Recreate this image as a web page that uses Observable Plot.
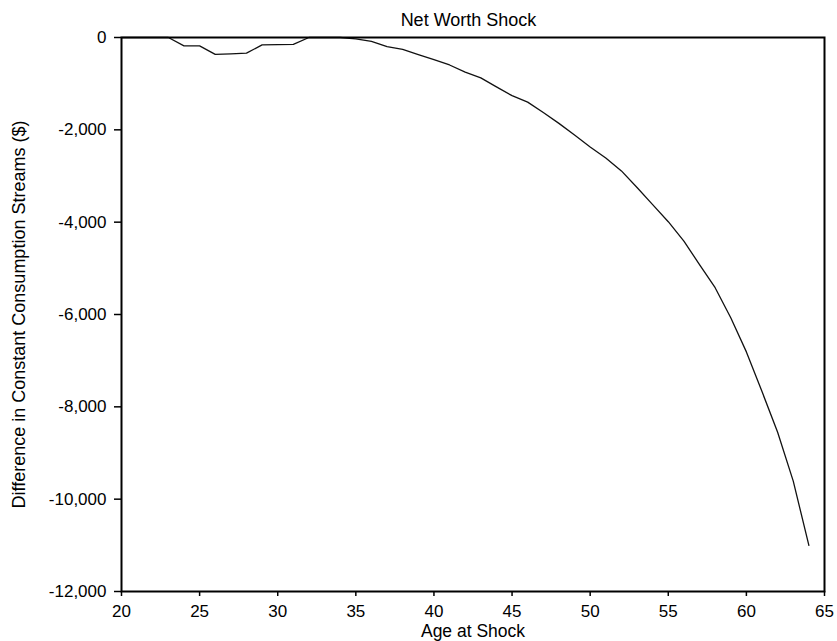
<!DOCTYPE html>
<html>
<head>
<meta charset="utf-8">
<script src="https://cdn.jsdelivr.net/npm/d3@7"></script>
<script src="https://cdn.jsdelivr.net/npm/@observablehq/plot@0.6"></script>
<style>
  html, body { margin: 0; padding: 0; background: #fff; }
  #title { width: 837px; box-sizing: border-box; padding-left: 113px; padding-right: 13px; padding-top: 10px;
    text-align: center; font: 18px "Liberation Sans", Arial, sans-serif; height: 30px; line-height: 20px; color: #000; }
</style>
</head>
<body>
<div id="title"></div>
<div id="chart"></div>
<script>
const titleText = "Net Worth Shock";
const xLabel = "Age at Shock";
const yLabel = "Difference in Constant Consumption Streams ($)";
const ages = [20,21,22,23,24,25,26,27,28,29,30,31,32,33,34,35,36,37,38,39,40,41,42,43,44,45,46,47,48,49,50,51,52,53,54,55,56,57,58,59,60,61,62,63,64];
const diffs = [0,0,0,0,-180,-180,-365,-355,-340,-160,-155,-150,0,0,0,-30,-85,-200,-255,-370,-480,-595,-750,-875,-1070,-1260,-1400,-1625,-1860,-2110,-2370,-2610,-2890,-3250,-3620,-3990,-4410,-4920,-5420,-6070,-6810,-7670,-8550,-9610,-11000];
const xTicks = [20,25,30,35,40,45,50,55,60,65];
const yTicks = [0,-2000,-4000,-6000,-8000,-10000,-12000];

document.getElementById("title").textContent = titleText;
const data = ages.map((a, i) => ({age: a, diff: diffs[i]}));
const fmt = d => (d < 0 ? "-" : "") + d3.format(",")(Math.abs(d));

const chart = Plot.plot({
  width: 837,
  height: 611,
  marginLeft: 121,
  marginRight: 13,
  marginTop: 7,
  marginBottom: 50,
  style: {fontFamily: "'Liberation Sans', Arial, sans-serif", fontSize: "17px", color: "#000", background: "#fff", overflow: "visible"},
  x: {domain: [20, 65]},
  y: {domain: [-12000, 0]},
  marks: [
    Plot.axisX({ticks: xTicks, tickSize: 5, tickPadding: 8, tickFormat: d => String(d), label: null, fontSize: 17, stroke: "#000", strokeWidth: 1.5}),
    Plot.axisX({ticks: [], tickSize: 0, label: xLabel, labelAnchor: "center", labelOffset: 45, labelArrow: "none", fontSize: 17.5}),
    Plot.axisY({ticks: yTicks, tickSize: 7, tickPadding: 8, tickFormat: fmt, label: null, fontSize: 17, stroke: "#000", strokeWidth: 1.5}),
    Plot.axisY({ticks: [], tickSize: 0, label: yLabel, labelAnchor: "center", labelOffset: 109, labelArrow: "none", fontSize: 18}),
    Plot.line(data, {x: "age", y: "diff", stroke: "#111", strokeWidth: 1.3}),
    Plot.frame({stroke: "#000", strokeWidth: 2})
  ]
});
document.getElementById("chart").appendChild(chart);
</script>
</body>
</html>
